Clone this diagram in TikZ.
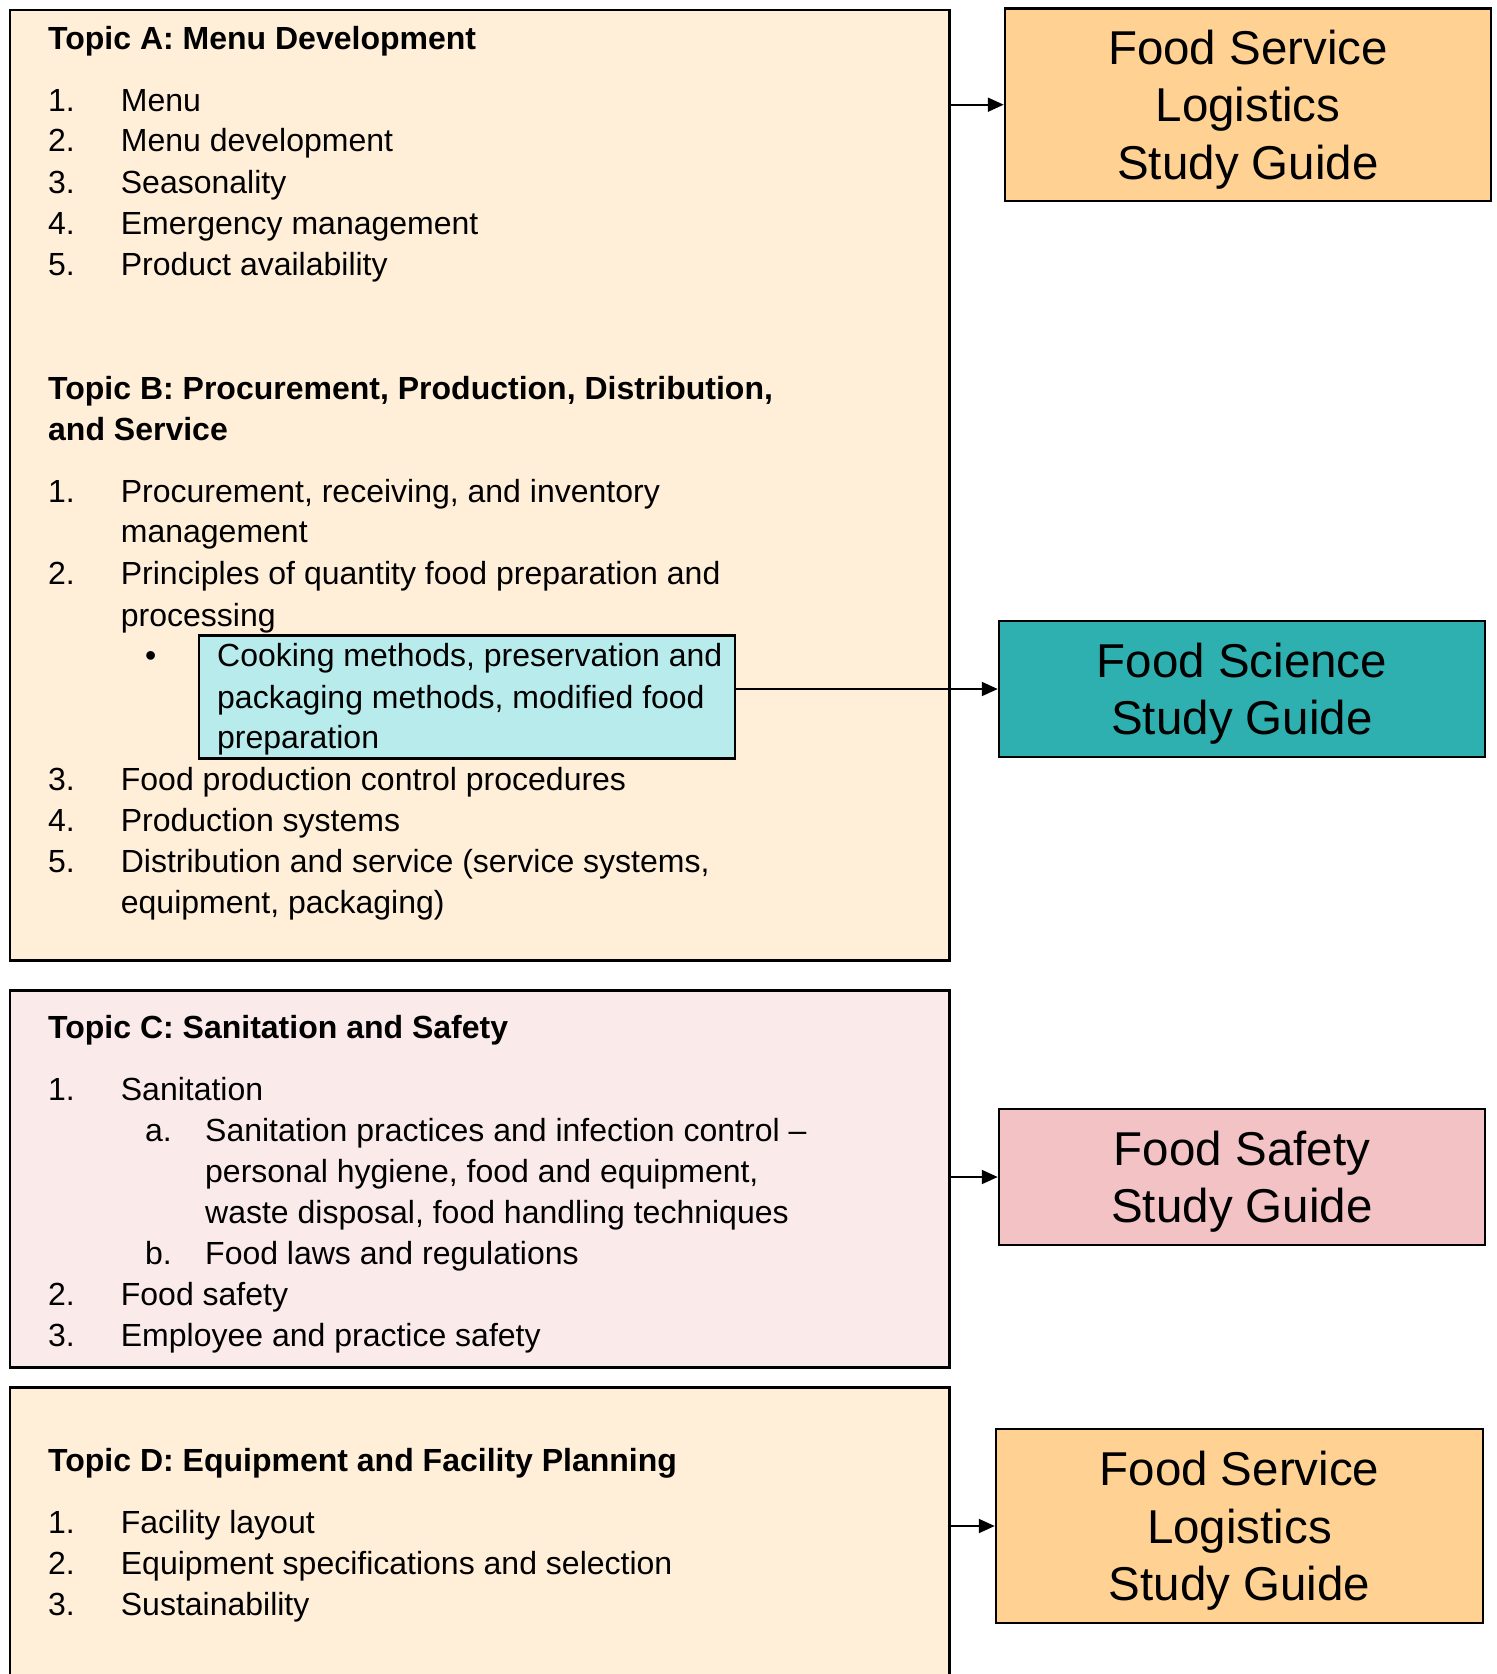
\documentclass[tikz,border=0pt]{standalone}
\usepackage{fontspec}
\setmainfont{Liberation Sans}
\usetikzlibrary{arrows.meta}

\definecolor{peach}{RGB}{255,239,217}
\definecolor{tan}{RGB}{255,210,148}
\definecolor{teal}{RGB}{46,176,176}
\definecolor{blush}{RGB}{251,234,234}
\definecolor{rose}{RGB}{242,194,196}
\definecolor{aqua}{RGB}{184,236,236}

\begin{document}
\begin{tikzpicture}[x=1pt,y=-1pt,
  topicbox/.style={draw, line width=2.5pt, inner sep=0pt, anchor=north west},
  guide/.style={draw, line width=2.5pt, align=center, inner sep=0pt, text depth=0pt,
    font=\fontsize{47.5}{57.5}\selectfont},
  txt/.style={anchor=west, inner sep=0pt, yshift=-4pt, font=\fontsize{32}{41}\selectfont,
    text height=24pt, text depth=8pt},
  hd/.style={txt, font=\bfseries\fontsize{32}{41}\selectfont},
  link/.style={line width=2pt, -{Triangle[length=16pt,width=14pt]}}]
\useasboundingbox (0,0) rectangle (1497,1674);

% topic boxes
\node [topicbox, fill=peach, minimum width=939.5pt, minimum height=950.5pt] (A) at (8.5,8.5) {};
\node [topicbox, fill=blush, minimum width=939.5pt, minimum height=377pt] (C) at (8.5,989) {};
\node [topicbox, fill=peach, minimum width=939.5pt, minimum height=300pt] (D) at (8.5,1386) {};
\node [topicbox, fill=aqua, minimum width=536pt, minimum height=123pt] (cook) at (197.5,634) {};

% study guides
\node [guide, fill=tan, minimum width=486pt, minimum height=192.5pt] (fsl1) at (1248,104.7) {Food Service\\Logistics\\Study Guide};
\node [guide, fill=teal, minimum width=486pt, minimum height=136pt] (fsci) at (1242,689) {Food Science\\Study Guide};
\node [guide, fill=rose, minimum width=486pt, minimum height=136pt] (fsafe) at (1242,1177) {Food Safety\\Study Guide};
\node [guide, fill=tan, minimum width=487pt, minimum height=194pt] (fsl2) at (1239.5,1526) {Food Service\\Logistics\\Study Guide};

% topic A
\node [hd] (ha) at (48,37.4) {Topic A: Menu Development};
\node [txt] (a1) at (48,99.3) {\makebox[72.7pt][l]{1.}Menu};
\node [txt] (a2) at (48,139.9) {\makebox[72.7pt][l]{2.}Menu development};
\node [txt] (a3) at (48,181.5) {\makebox[72.7pt][l]{3.}Seasonality};
\node [txt] (a4) at (48,222.1) {\makebox[72.7pt][l]{4.}Emergency management};
\node [txt] (a5) at (48,263.7) {\makebox[72.7pt][l]{5.}Product availability};

% topic B
\node [hd] (hb) at (48,387.6) {Topic B: Procurement, Production, Distribution,};
\node [hd] (hbx) at (48,428.2) {and Service};
\node [txt] (b1) at (48,490.1) {\makebox[72.7pt][l]{1.}Procurement, receiving, and inventory};
\node [txt] (b1x) at (120.7,530.7) {management};
\node [txt] (b2) at (48,572.3) {\makebox[72.7pt][l]{2.}Principles of quantity food preparation and};
\node [txt] (b2x) at (120.7,614.0) {processing};
\node [txt] (dot) at (145,654.6) {•};
\node [txt] (k1) at (217,654.6) {Cooking methods, preservation and};
\node [txt] (k2) at (217,696.2) {packaging methods, modified food};
\node [txt] (k3) at (217,736.8) {preparation};
\node [txt] (b3) at (48,778.4) {\makebox[72.7pt][l]{3.}Food production control procedures};
\node [txt] (b4) at (48,819.0) {\makebox[72.7pt][l]{4.}Production systems};
\node [txt] (b5) at (48,860.6) {\makebox[72.7pt][l]{5.}Distribution and service (service systems,};
\node [txt] (b5x) at (120.7,901.2) {equipment, packaging)};

% topic C
\node [hd] (hc) at (48,1026.2) {Topic C: Sanitation and Safety};
\node [txt] (c1) at (48,1088.1) {\makebox[72.7pt][l]{1.}Sanitation};
\node [txt] (c1a) at (145,1129.7) {\makebox[60pt][l]{a.}Sanitation practices and infection control --};
\node [txt] (c1ax) at (205,1170.3) {personal hygiene, food and equipment,};
\node [txt] (c1ay) at (205,1211.9) {waste disposal, food handling techniques};
\node [txt] (c1b) at (145,1252.5) {\makebox[60pt][l]{b.}Food laws and regulations};
\node [txt] (c2) at (48,1293.1) {\makebox[72.7pt][l]{2.}Food safety};
\node [txt] (c3) at (48,1334.8) {\makebox[72.7pt][l]{3.}Employee and practice safety};

% topic D
\node [hd] (hd) at (48,1459.7) {Topic D: Equipment and Facility Planning};
\node [txt] (d1) at (48,1521.6) {\makebox[72.7pt][l]{1.}Facility layout};
\node [txt] (d2) at (48,1562.2) {\makebox[72.7pt][l]{2.}Equipment specifications and selection};
\node [txt] (d3) at (48,1603.8) {\makebox[72.7pt][l]{3.}Sustainability};

% links
\draw [link] (A.east |- fsl1.west) -- (fsl1.west);
\draw [link] (cook.east |- fsci.west) -- (fsci.west);
\draw [link] (C.east |- fsafe.west) -- (fsafe.west);
\draw [link] (D.east |- fsl2.west) -- (fsl2.west);

\end{tikzpicture}
\end{document}
